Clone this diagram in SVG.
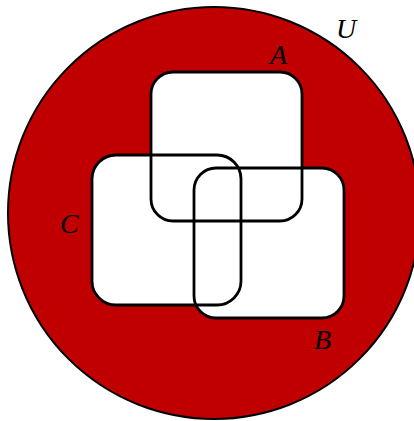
<svg xmlns="http://www.w3.org/2000/svg" width="414" height="421" viewBox="0 0 414 421">
<style>
.set{fill:none;stroke:#000;stroke-width:2.8}
.fill{fill:#fff;stroke:none}
.lbl{font-family:"Liberation Serif","DejaVu Serif",serif;font-style:italic;font-size:28px;fill:#000}
</style>
<rect width="414" height="421" fill="#fff"/>
<g id="U">
<circle cx="214" cy="213" r="206" fill="#C00000" stroke="#000" stroke-width="2"/>
<text class="lbl" x="336" y="38">U</text>
</g>
<g id="fills">
<rect class="fill" x="151" y="72" width="151" height="149" rx="22"/>
<rect class="fill" x="92" y="155" width="149" height="150" rx="24"/>
<rect class="fill" x="194" y="168" width="150" height="150" rx="22"/>
</g>
<g id="connectors"></g>
<g id="A">
<rect class="set" x="151" y="72" width="151" height="149" rx="22"/>
<text class="lbl" x="270" y="64">A</text>
</g>
<g id="C">
<rect class="set" x="92" y="155" width="149" height="150" rx="24"/>
<text class="lbl" x="60" y="233">C</text>
</g>
<g id="B">
<rect class="set" x="194" y="168" width="150" height="150" rx="22"/>
<text class="lbl" x="314" y="349">B</text>
</g>
</svg>
